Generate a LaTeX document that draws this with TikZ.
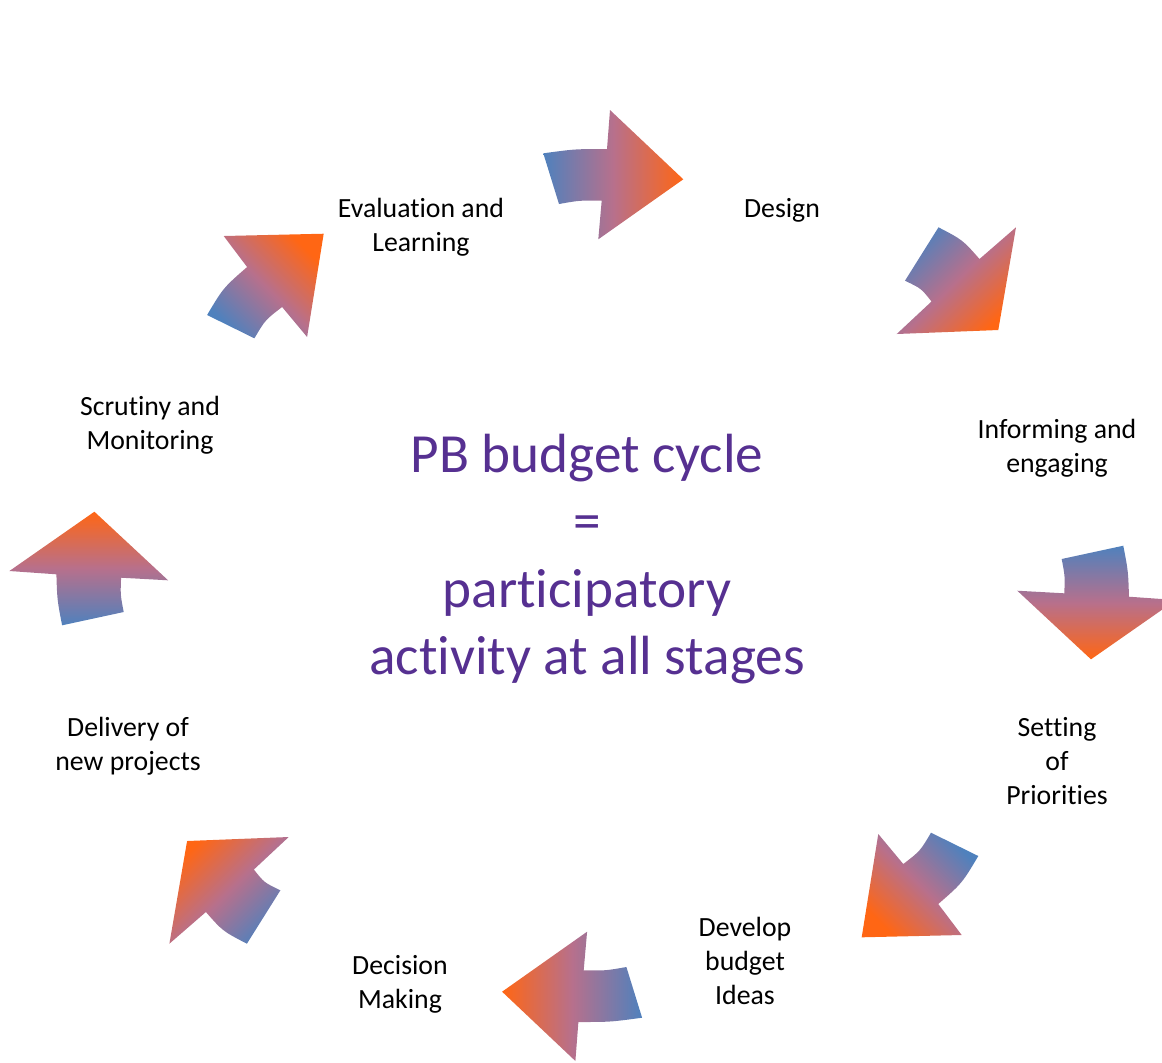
\documentclass[tikz,border=0pt]{standalone}
\usepackage{fontspec}
\setmainfont{Carlito}[Ligatures=CommonOff]
\usepackage{xcolor}
\definecolor{tailblue}{RGB}{79,129,189}
\definecolor{midpink}{RGB}{183,112,140}
\definecolor{tiporange}{RGB}{255,102,20}
\definecolor{cyclepurple}{RGB}{86,48,145}
\pgfdeclarehorizontalshading{cycleshade}{100bp}{color(0bp)=(tailblue); color(25bp)=(tailblue); color(50bp)=(midpink); color(75bp)=(tiporange); color(100bp)=(tiporange)}

\begin{document}
\begin{tikzpicture}[x=0.01cm, y=-0.01cm,
    stage/.style={align=center, font=\fontsize{7.9}{9.55}\selectfont},
    cyclearrow/.style={shading=cycleshade, shading angle=#1}]
\useasboundingbox (0,0) rectangle (1162,1062);

\shade[cyclearrow=0] (543.3,153.3) .. controls (575,149) .. (607,149) -- (610,110) -- (683.3,179.3) -- (598.3,239.3) -- (601.7,200.7) .. controls (580,200.3) .. (559,204) -- cycle;
\shade[cyclearrow=-45] (938.5,227.3) .. controls (962.7,239.9) .. (979.5,259) -- (1016,227.3) -- (998.3,330) -- (896.7,334) -- (931.5,301.5) .. controls (921.3,288.5) .. (905,280.7) -- cycle;
\shade[cyclearrow=-90] (1123.3,545.7) .. controls (1128.2,571.2) .. (1129,596.7) -- (1176,600) -- (1091,659.3) -- (1017.3,590.7) -- (1064.3,593.3) .. controls (1065,576.2) .. (1061.7,559) -- cycle;
\shade[cyclearrow=-135] (978.3,856) .. controls (962.1,883.2) .. (938.3,904) -- (961.7,935) -- (861.7,937.3) -- (878.3,834) -- (903.3,864) .. controls (920.2,851) .. (931,832.7) -- cycle;
\shade[cyclearrow=180] (642.1,1017.7) .. controls (610.4,1022) .. (578.4,1022) -- (575.4,1061) -- (502.1,991.7) -- (587.1,931.7) -- (583.7,970.3) .. controls (605.4,970.7) .. (626.4,967) -- cycle;
\shade[cyclearrow=135] (246.9,943.7) .. controls (222.7,931.1) .. (205.9,912) -- (169.4,943.7) -- (187.1,841) -- (288.7,837) -- (253.9,869.5) .. controls (264.1,882.5) .. (280.4,890.3) -- cycle;
\shade[cyclearrow=90] (62.1,625.3) .. controls (57.2,599.8) .. (56.4,574.3) -- (9.4,571) -- (94.4,511.7) -- (168.1,580.3) -- (121.1,577.7) .. controls (120.4,594.8) .. (123.7,612) -- cycle;
\shade[cyclearrow=45] (207.1,315) .. controls (223.3,287.8) .. (247.1,267) -- (223.7,236) -- (323.7,233.7) -- (307.1,337) -- (282.1,307) .. controls (265.2,320) .. (254.4,338.3) -- cycle;

\node[stage] (evaluation) at (421,227.5) {Evaluation and\\Learning};
\node[stage] (design) at (782,210.5) {Design};
\node[stage] (informing) at (1057,448.5) {Informing and\\engaging};
\node[stage] (setting) at (1057,761) {Setting\\of\\Priorities};
\node[stage] (develop) at (745,961) {Develop\\budget\\Ideas};
\node[stage] (decision) at (400,984.5) {Decision\\Making};
\node[stage] (delivery) at (128,746.5) {Delivery of\\new projects};
\node[stage] (scrutiny) at (150,425.5) {Scrutiny and\\Monitoring};

\node[align=center, text=cyclepurple, font=\fontsize{15.7}{19.15}\selectfont] (cycle) at (587,559) {PB budget cycle\\=\\participatory\\activity at all stages};
\end{tikzpicture}
\end{document}
